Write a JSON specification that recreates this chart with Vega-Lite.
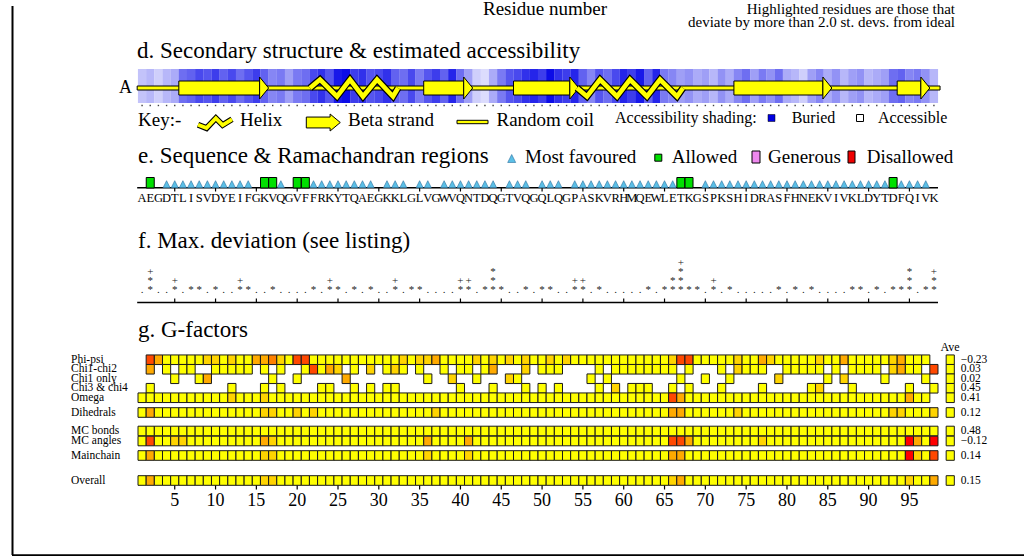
{
"$schema":"https://vega.github.io/schema/vega-lite/v6.json",
"width":1024,"height":556,
"autosize":{"type":"fit","contains":"padding"},
"padding":0,
"background":"#ffffff",
"config":{"view":{"stroke":null},"text":{"font":"Liberation Serif, serif","color":"#000"},"mark":{"font":"Liberation Serif, serif"}},
"data":{"values":[{}]},
"datasets":{
"res":[
{"r":1,"aa":"A","acc":0.2,"rm":null,"pp":null,"c12":null,"c1":null,"c34":null,"om":0,"dih":0,"mcb":0,"mca":0,"mc":0,"ov":0},
{"r":2,"aa":"E","acc":0.25,"rm":"a","pp":-2,"c12":-1.1,"c1":null,"c34":0,"om":0,"dih":-0.9,"mcb":0,"mca":-2.2,"mc":-1,"ov":-1},
{"r":3,"aa":"G","acc":0.15,"rm":null,"pp":-1.1,"c12":null,"c1":null,"c34":null,"om":0,"dih":0,"mcb":0,"mca":0,"mc":0,"ov":0},
{"r":4,"aa":"D","acc":0.25,"rm":"c","pp":0,"c12":0,"c1":null,"c34":null,"om":0,"dih":0,"mcb":0,"mca":0,"mc":0,"ov":0},
{"r":5,"aa":"T","acc":0.3,"rm":"c","pp":0,"c12":null,"c1":0,"c34":null,"om":0,"dih":0,"mcb":0,"mca":-0.6,"mc":0,"ov":0},
{"r":6,"aa":"L","acc":0.55,"rm":"c","pp":0,"c12":0,"c1":null,"c34":null,"om":0,"dih":0,"mcb":0,"mca":-0.6,"mc":0,"ov":0},
{"r":7,"aa":"I","acc":0.6,"rm":"c","pp":0,"c12":0,"c1":null,"c34":null,"om":0,"dih":0,"mcb":0,"mca":0,"mc":0,"ov":0},
{"r":8,"aa":"S","acc":0.7,"rm":"c","pp":0,"c12":null,"c1":0,"c34":null,"om":0,"dih":0,"mcb":0,"mca":0,"mc":0,"ov":0},
{"r":9,"aa":"V","acc":0.65,"rm":"c","pp":-0.6,"c12":null,"c1":-1.1,"c34":null,"om":0,"dih":0,"mcb":0,"mca":0,"mc":0,"ov":0},
{"r":10,"aa":"D","acc":0.75,"rm":"c","pp":-0.6,"c12":0,"c1":null,"c34":null,"om":0,"dih":0,"mcb":0,"mca":0,"mc":0,"ov":0},
{"r":11,"aa":"Y","acc":0.6,"rm":"c","pp":0,"c12":0,"c1":null,"c34":null,"om":0,"dih":0,"mcb":0,"mca":0,"mc":0,"ov":0},
{"r":12,"aa":"E","acc":0.7,"rm":"c","pp":-0.6,"c12":0,"c1":null,"c34":0,"om":-0.6,"dih":0,"mcb":0,"mca":0,"mc":0,"ov":0},
{"r":13,"aa":"I","acc":0.55,"rm":"c","pp":0,"c12":0,"c1":null,"c34":null,"om":0,"dih":0,"mcb":0,"mca":0,"mc":0,"ov":0},
{"r":14,"aa":"F","acc":0.65,"rm":"c","pp":0,"c12":0,"c1":null,"c34":null,"om":0,"dih":0,"mcb":0,"mca":0,"mc":0,"ov":0},
{"r":15,"aa":"G","acc":0.75,"rm":null,"pp":-1,"c12":null,"c1":null,"c34":null,"om":0,"dih":0,"mcb":0,"mca":0,"mc":0,"ov":0},
{"r":16,"aa":"K","acc":0.6,"rm":"a","pp":-1.1,"c12":0,"c1":null,"c34":0,"om":-0.6,"dih":-0.6,"mcb":0,"mca":-1,"mc":-0.6,"ov":-0.6},
{"r":17,"aa":"V","acc":0.45,"rm":"a","pp":-1.5,"c12":null,"c1":0,"c34":null,"om":0,"dih":-0.6,"mcb":0,"mca":-0.6,"mc":-0.6,"ov":-0.6},
{"r":18,"aa":"Q","acc":0.5,"rm":"c","pp":-0.6,"c12":0,"c1":null,"c34":0,"om":0,"dih":0,"mcb":0,"mca":0,"mc":0,"ov":0},
{"r":19,"aa":"G","acc":0.35,"rm":null,"pp":0,"c12":null,"c1":null,"c34":null,"om":0,"dih":0,"mcb":0,"mca":0,"mc":0,"ov":0},
{"r":20,"aa":"V","acc":0.5,"rm":"a","pp":-2,"c12":null,"c1":0,"c34":null,"om":0,"dih":-0.6,"mcb":0,"mca":0,"mc":0,"ov":0},
{"r":21,"aa":"F","acc":0.55,"rm":"a","pp":-1.8,"c12":0,"c1":null,"c34":null,"om":0,"dih":0,"mcb":0,"mca":0,"mc":0,"ov":0},
{"r":22,"aa":"F","acc":0.7,"rm":"c","pp":0,"c12":-2,"c1":null,"c34":null,"om":0,"dih":-0.6,"mcb":0,"mca":0,"mc":0,"ov":0},
{"r":23,"aa":"R","acc":0.8,"rm":"c","pp":0,"c12":0,"c1":null,"c34":0,"om":0,"dih":0,"mcb":0,"mca":0,"mc":0,"ov":0},
{"r":24,"aa":"K","acc":0.65,"rm":"c","pp":0,"c12":-1.1,"c1":null,"c34":0,"om":0,"dih":0,"mcb":0,"mca":0,"mc":0,"ov":0},
{"r":25,"aa":"Y","acc":0.9,"rm":"c","pp":0,"c12":-0.6,"c1":null,"c34":null,"om":0,"dih":0,"mcb":0,"mca":0,"mc":0,"ov":0},
{"r":26,"aa":"T","acc":0.95,"rm":"c","pp":0,"c12":null,"c1":-1,"c34":null,"om":0,"dih":0,"mcb":0,"mca":0,"mc":0,"ov":0},
{"r":27,"aa":"Q","acc":0.75,"rm":"c","pp":0,"c12":0,"c1":null,"c34":0,"om":0,"dih":0,"mcb":0,"mca":0,"mc":0,"ov":0},
{"r":28,"aa":"A","acc":0.8,"rm":"c","pp":0,"c12":null,"c1":null,"c34":null,"om":0,"dih":0,"mcb":0,"mca":0,"mc":0,"ov":0},
{"r":29,"aa":"E","acc":0.65,"rm":"c","pp":0,"c12":-0.6,"c1":null,"c34":0,"om":0,"dih":0,"mcb":0,"mca":0,"mc":0,"ov":0},
{"r":30,"aa":"G","acc":0.7,"rm":null,"pp":0,"c12":null,"c1":null,"c34":null,"om":0,"dih":0,"mcb":0,"mca":0,"mc":0,"ov":0},
{"r":31,"aa":"K","acc":0.8,"rm":"c","pp":0,"c12":0,"c1":null,"c34":0,"om":0,"dih":0,"mcb":0,"mca":0,"mc":0,"ov":0},
{"r":32,"aa":"K","acc":0.6,"rm":"c","pp":0,"c12":-0.6,"c1":null,"c34":0,"om":0,"dih":0,"mcb":0,"mca":0,"mc":0,"ov":0},
{"r":33,"aa":"L","acc":0.55,"rm":"c","pp":-0.6,"c12":0,"c1":null,"c34":null,"om":0,"dih":0,"mcb":0,"mca":0,"mc":0,"ov":0},
{"r":34,"aa":"G","acc":0.7,"rm":null,"pp":0,"c12":null,"c1":null,"c34":null,"om":0,"dih":0,"mcb":0,"mca":0,"mc":0,"ov":0},
{"r":35,"aa":"L","acc":0.5,"rm":"c","pp":-0.6,"c12":0,"c1":null,"c34":null,"om":0,"dih":0,"mcb":0,"mca":0,"mc":0,"ov":0},
{"r":36,"aa":"V","acc":0.65,"rm":"c","pp":-0.6,"c12":null,"c1":0,"c34":null,"om":0,"dih":0,"mcb":0,"mca":-1,"mc":-0.6,"ov":0},
{"r":37,"aa":"G","acc":0.75,"rm":null,"pp":-1.1,"c12":null,"c1":null,"c34":null,"om":0,"dih":-0.6,"mcb":0,"mca":0,"mc":0,"ov":0},
{"r":38,"aa":"W","acc":0.6,"rm":"c","pp":0,"c12":0,"c1":null,"c34":null,"om":0,"dih":0,"mcb":0,"mca":0,"mc":0,"ov":0},
{"r":39,"aa":"V","acc":0.85,"rm":"c","pp":0,"c12":null,"c1":-0.7,"c34":null,"om":0,"dih":0,"mcb":0,"mca":0,"mc":0,"ov":0},
{"r":40,"aa":"Q","acc":0.55,"rm":"c","pp":0,"c12":0,"c1":null,"c34":0,"om":0,"dih":0,"mcb":0,"mca":0,"mc":0,"ov":0},
{"r":41,"aa":"N","acc":0.35,"rm":"c","pp":0,"c12":0,"c1":null,"c34":null,"om":0,"dih":0,"mcb":0,"mca":-0.9,"mc":-0.6,"ov":0},
{"r":42,"aa":"T","acc":0.15,"rm":"c","pp":-0.6,"c12":null,"c1":0,"c34":null,"om":0,"dih":0,"mcb":0,"mca":0,"mc":0,"ov":0},
{"r":43,"aa":"D","acc":0.1,"rm":"c","pp":0,"c12":0,"c1":null,"c34":null,"om":0,"dih":0,"mcb":0,"mca":0,"mc":0,"ov":0},
{"r":44,"aa":"Q","acc":0.3,"rm":"c","pp":-0.6,"c12":-1.1,"c1":null,"c34":0,"om":0,"dih":0,"mcb":0,"mca":0,"mc":0,"ov":0},
{"r":45,"aa":"G","acc":0.5,"rm":null,"pp":0,"c12":null,"c1":null,"c34":null,"om":0,"dih":0,"mcb":0,"mca":0,"mc":0,"ov":0},
{"r":46,"aa":"T","acc":0.65,"rm":"c","pp":-0.6,"c12":null,"c1":-0.6,"c34":null,"om":0,"dih":0,"mcb":0,"mca":0,"mc":0,"ov":0},
{"r":47,"aa":"V","acc":0.7,"rm":"c","pp":0,"c12":null,"c1":0,"c34":null,"om":0,"dih":0,"mcb":0,"mca":0,"mc":0,"ov":0},
{"r":48,"aa":"Q","acc":0.8,"rm":"c","pp":-0.6,"c12":-0.6,"c1":null,"c34":0,"om":0,"dih":0,"mcb":0,"mca":0,"mc":0,"ov":0},
{"r":49,"aa":"G","acc":0.85,"rm":null,"pp":0,"c12":null,"c1":null,"c34":null,"om":0,"dih":0,"mcb":0,"mca":0,"mc":0,"ov":0},
{"r":50,"aa":"Q","acc":0.75,"rm":"c","pp":0,"c12":0,"c1":null,"c34":0,"om":0,"dih":0,"mcb":0,"mca":0,"mc":0,"ov":0},
{"r":51,"aa":"L","acc":0.95,"rm":"c","pp":-0.6,"c12":0,"c1":null,"c34":null,"om":0,"dih":0,"mcb":0,"mca":0,"mc":0,"ov":0},
{"r":52,"aa":"Q","acc":0.8,"rm":"c","pp":0,"c12":0,"c1":null,"c34":0,"om":0,"dih":0,"mcb":0,"mca":0,"mc":0,"ov":0},
{"r":53,"aa":"G","acc":0.75,"rm":null,"pp":-0.6,"c12":null,"c1":null,"c34":null,"om":0,"dih":0,"mcb":0,"mca":0,"mc":0,"ov":0},
{"r":54,"aa":"P","acc":0.85,"rm":"c","pp":0,"c12":null,"c1":null,"c34":null,"om":0,"dih":0,"mcb":0,"mca":0,"mc":0,"ov":0},
{"r":55,"aa":"A","acc":0.6,"rm":"c","pp":0,"c12":null,"c1":null,"c34":null,"om":0,"dih":0,"mcb":0,"mca":0,"mc":0,"ov":0},
{"r":56,"aa":"S","acc":0.45,"rm":"c","pp":0,"c12":null,"c1":0,"c34":null,"om":0,"dih":0,"mcb":0,"mca":0,"mc":0,"ov":0},
{"r":57,"aa":"K","acc":0.65,"rm":"c","pp":0,"c12":0,"c1":null,"c34":0,"om":0,"dih":0,"mcb":0,"mca":0,"mc":0,"ov":0},
{"r":58,"aa":"V","acc":0.55,"rm":"c","pp":0,"c12":null,"c1":0,"c34":null,"om":0,"dih":0,"mcb":0,"mca":0,"mc":0,"ov":0},
{"r":59,"aa":"R","acc":0.7,"rm":"c","pp":0,"c12":0,"c1":null,"c34":-0.6,"om":0,"dih":0,"mcb":0,"mca":0,"mc":0,"ov":0},
{"r":60,"aa":"H","acc":0.85,"rm":"c","pp":0,"c12":0,"c1":null,"c34":null,"om":0,"dih":0,"mcb":0,"mca":0,"mc":0,"ov":0},
{"r":61,"aa":"M","acc":0.75,"rm":"c","pp":0,"c12":0,"c1":null,"c34":0,"om":0,"dih":0,"mcb":0,"mca":0,"mc":0,"ov":0},
{"r":62,"aa":"Q","acc":0.9,"rm":"c","pp":0,"c12":0,"c1":null,"c34":0,"om":0,"dih":0,"mcb":0,"mca":0,"mc":0,"ov":0},
{"r":63,"aa":"E","acc":0.6,"rm":"c","pp":0,"c12":0,"c1":null,"c34":0,"om":0,"dih":0,"mcb":0,"mca":0,"mc":0,"ov":0},
{"r":64,"aa":"W","acc":0.85,"rm":"c","pp":0,"c12":0,"c1":null,"c34":null,"om":0,"dih":0,"mcb":0,"mca":0,"mc":0,"ov":0},
{"r":65,"aa":"L","acc":0.5,"rm":"c","pp":0,"c12":0,"c1":null,"c34":null,"om":0,"dih":0,"mcb":0,"mca":0,"mc":0,"ov":0},
{"r":66,"aa":"E","acc":0.45,"rm":"c","pp":-0.7,"c12":0,"c1":null,"c34":0,"om":-2,"dih":-0.9,"mcb":0,"mca":-2,"mc":-0.9,"ov":-0.8},
{"r":67,"aa":"T","acc":0.35,"rm":"a","pp":-2,"c12":null,"c1":0,"c34":null,"om":-1.1,"dih":-1,"mcb":0,"mca":-2.2,"mc":-1,"ov":-1},
{"r":68,"aa":"K","acc":0.4,"rm":"a","pp":-2,"c12":0,"c1":null,"c34":0,"om":0,"dih":0,"mcb":0,"mca":-1,"mc":0,"ov":0},
{"r":69,"aa":"G","acc":0.3,"rm":null,"pp":0,"c12":null,"c1":null,"c34":null,"om":0,"dih":0,"mcb":0,"mca":0,"mc":0,"ov":0},
{"r":70,"aa":"S","acc":0.35,"rm":"c","pp":0,"c12":null,"c1":0,"c34":null,"om":0,"dih":0,"mcb":0,"mca":0,"mc":0,"ov":0},
{"r":71,"aa":"P","acc":0.25,"rm":"c","pp":0,"c12":null,"c1":null,"c34":null,"om":0,"dih":0,"mcb":0,"mca":0,"mc":0,"ov":0},
{"r":72,"aa":"K","acc":0.4,"rm":"c","pp":0,"c12":0,"c1":null,"c34":0,"om":0,"dih":0,"mcb":0,"mca":0,"mc":0,"ov":0},
{"r":73,"aa":"S","acc":0.3,"rm":"c","pp":0,"c12":null,"c1":0,"c34":null,"om":0,"dih":0,"mcb":0,"mca":0,"mc":0,"ov":0},
{"r":74,"aa":"H","acc":0.45,"rm":"c","pp":-0.6,"c12":-0.6,"c1":null,"c34":null,"om":0,"dih":-0.6,"mcb":0,"mca":0,"mc":0,"ov":0},
{"r":75,"aa":"I","acc":0.55,"rm":"c","pp":0,"c12":0,"c1":null,"c34":null,"om":0,"dih":0,"mcb":0,"mca":0,"mc":0,"ov":0},
{"r":76,"aa":"D","acc":0.35,"rm":"c","pp":0,"c12":0,"c1":null,"c34":null,"om":0,"dih":0,"mcb":0,"mca":0,"mc":0,"ov":0},
{"r":77,"aa":"R","acc":0.5,"rm":"c","pp":-1,"c12":0,"c1":null,"c34":0,"om":0,"dih":0,"mcb":0,"mca":-0.6,"mc":0,"ov":0},
{"r":78,"aa":"A","acc":0.4,"rm":"c","pp":-0.6,"c12":null,"c1":null,"c34":null,"om":0,"dih":0,"mcb":0,"mca":0,"mc":0,"ov":0},
{"r":79,"aa":"S","acc":0.55,"rm":"c","pp":0,"c12":null,"c1":-0.6,"c34":null,"om":0,"dih":0,"mcb":0,"mca":0,"mc":0,"ov":0},
{"r":80,"aa":"F","acc":0.3,"rm":"c","pp":0,"c12":0,"c1":null,"c34":null,"om":0,"dih":0,"mcb":0,"mca":0,"mc":0,"ov":0},
{"r":81,"aa":"H","acc":0.25,"rm":"c","pp":0,"c12":0,"c1":null,"c34":null,"om":0,"dih":0,"mcb":0,"mca":0,"mc":0,"ov":0},
{"r":82,"aa":"N","acc":0.15,"rm":"c","pp":0,"c12":0,"c1":null,"c34":null,"om":0,"dih":0,"mcb":0,"mca":0,"mc":0,"ov":0},
{"r":83,"aa":"E","acc":0.35,"rm":"c","pp":0,"c12":0,"c1":null,"c34":0,"om":0,"dih":0,"mcb":0,"mca":0,"mc":0,"ov":0},
{"r":84,"aa":"K","acc":0.45,"rm":"c","pp":-0.6,"c12":0,"c1":null,"c34":-0.6,"om":0,"dih":0,"mcb":0,"mca":0,"mc":0,"ov":0},
{"r":85,"aa":"V","acc":0.3,"rm":"c","pp":0,"c12":null,"c1":0,"c34":null,"om":0,"dih":0,"mcb":0,"mca":0,"mc":0,"ov":0},
{"r":86,"aa":"I","acc":0.4,"rm":"c","pp":0,"c12":0,"c1":null,"c34":null,"om":0,"dih":0,"mcb":0,"mca":0,"mc":0,"ov":0},
{"r":87,"aa":"V","acc":0.25,"rm":"c","pp":-1,"c12":null,"c1":-0.6,"c34":null,"om":0,"dih":0,"mcb":0,"mca":0,"mc":0,"ov":0},
{"r":88,"aa":"K","acc":0.35,"rm":"c","pp":0,"c12":0,"c1":null,"c34":0,"om":0,"dih":0,"mcb":0,"mca":0,"mc":0,"ov":0},
{"r":89,"aa":"L","acc":0.4,"rm":"c","pp":0,"c12":0,"c1":null,"c34":null,"om":0,"dih":0,"mcb":0,"mca":0,"mc":0,"ov":0},
{"r":90,"aa":"D","acc":0.25,"rm":"c","pp":0,"c12":0,"c1":null,"c34":null,"om":0,"dih":0,"mcb":0,"mca":0,"mc":0,"ov":0},
{"r":91,"aa":"Y","acc":0.3,"rm":"c","pp":0,"c12":0,"c1":null,"c34":null,"om":0,"dih":0,"mcb":0,"mca":0,"mc":0,"ov":0},
{"r":92,"aa":"T","acc":0.35,"rm":"c","pp":0,"c12":null,"c1":0,"c34":null,"om":0,"dih":0,"mcb":0,"mca":0,"mc":0,"ov":0},
{"r":93,"aa":"D","acc":0.55,"rm":"a","pp":-0.6,"c12":-0.6,"c1":null,"c34":null,"om":0,"dih":-0.6,"mcb":0,"mca":0,"mc":0,"ov":0},
{"r":94,"aa":"F","acc":0.6,"rm":"c","pp":-1,"c12":-1.1,"c1":null,"c34":null,"om":0,"dih":-0.6,"mcb":0,"mca":0,"mc":0,"ov":0},
{"r":95,"aa":"Q","acc":0.45,"rm":"c","pp":0,"c12":0,"c1":null,"c34":0,"om":-1.2,"dih":0,"mcb":0,"mca":-3,"mc":-2.6,"ov":-0.7},
{"r":96,"aa":"I","acc":0.5,"rm":"c","pp":0,"c12":0,"c1":null,"c34":null,"om":0,"dih":0,"mcb":0,"mca":-1.2,"mc":-0.6,"ov":0},
{"r":97,"aa":"V","acc":0.4,"rm":"c","pp":0,"c12":null,"c1":0,"c34":null,"om":0,"dih":0,"mcb":0,"mca":0,"mc":0,"ov":0},
{"r":98,"aa":"K","acc":0.25,"rm":null,"pp":null,"c12":-1.8,"c1":null,"c34":0,"om":null,"dih":-0.8,"mcb":0,"mca":-3,"mc":-1.8,"ov":-1}
],
"gave":[
{"key":"pp","k":0,"label":"Phi-psi","ave":-0.23},
{"key":"c12","k":1,"label":"Chi1-chi2","ave":0.03},
{"key":"c1","k":2,"label":"Chi1 only","ave":0.02},
{"key":"c34","k":3,"label":"Chi3 & chi4","ave":0.45},
{"key":"om","k":4,"label":"Omega","ave":0.41},
{"key":"dih","k":5,"label":"Dihedrals","ave":0.12},
{"key":"mcb","k":6,"label":"MC bonds","ave":0.48},
{"key":"mca","k":7,"label":"MC angles","ave":-0.12},
{"key":"mc","k":8,"label":"Mainchain","ave":0.14},
{"key":"ov","k":9,"label":"Overall","ave":0.15}
],
"strands":[{"s":6,"e":16},{"s":36,"e":41},{"s":47,"e":54},{"s":74,"e":85},{"s":94,"e":97}],
"helix":[
{"h":1,"x":21.57,"lv":0},{"h":1,"x":22.8,"lv":1},{"h":1,"x":24.88,"lv":-1},{"h":1,"x":26.47,"lv":1},{"h":1,"x":28.06,"lv":-1},{"h":1,"x":29.78,"lv":1},{"h":1,"x":31.74,"lv":-1},{"h":1,"x":32.35,"lv":0},
{"h":2,"x":54.28,"lv":0},{"h":2,"x":55.5,"lv":-1},{"h":2,"x":57.1,"lv":1},{"h":2,"x":59.18,"lv":-1},{"h":2,"x":60.77,"lv":1},{"h":2,"x":62.85,"lv":-1},{"h":2,"x":64.45,"lv":1},{"h":2,"x":66.53,"lv":-1},{"h":2,"x":67.26,"lv":0}
],
"dev":[
{"r":1,"lv":0,"s":"."},{"r":2,"lv":0,"s":"*"},{"r":2,"lv":1,"s":"*"},{"r":2,"lv":2,"s":"+"},{"r":3,"lv":0,"s":"."},{"r":4,"lv":0,"s":"."},{"r":5,"lv":0,"s":"*"},{"r":5,"lv":1,"s":"+"},{"r":6,"lv":0,"s":"."},{"r":7,"lv":0,"s":"*"},{"r":8,"lv":0,"s":"*"},{"r":9,"lv":0,"s":"."},{"r":10,"lv":0,"s":"*"},
{"r":11,"lv":0,"s":"."},{"r":12,"lv":0,"s":"."},{"r":13,"lv":0,"s":"*"},{"r":13,"lv":1,"s":"+"},{"r":14,"lv":0,"s":"*"},{"r":15,"lv":0,"s":"."},{"r":16,"lv":0,"s":"."},{"r":17,"lv":0,"s":"*"},{"r":18,"lv":0,"s":"."},{"r":19,"lv":0,"s":"."},{"r":20,"lv":0,"s":"."},
{"r":21,"lv":0,"s":"."},{"r":22,"lv":0,"s":"*"},{"r":23,"lv":0,"s":"."},{"r":24,"lv":0,"s":"*"},{"r":24,"lv":1,"s":"+"},{"r":25,"lv":0,"s":"*"},{"r":26,"lv":0,"s":"."},{"r":27,"lv":0,"s":"*"},{"r":28,"lv":0,"s":"."},{"r":29,"lv":0,"s":"*"},{"r":30,"lv":0,"s":"."},
{"r":31,"lv":0,"s":"."},{"r":32,"lv":0,"s":"*"},{"r":32,"lv":1,"s":"+"},{"r":33,"lv":0,"s":"."},{"r":34,"lv":0,"s":"*"},{"r":35,"lv":0,"s":"*"},{"r":36,"lv":0,"s":"."},{"r":37,"lv":0,"s":"."},{"r":38,"lv":0,"s":"."},{"r":39,"lv":0,"s":"."},{"r":40,"lv":0,"s":"*"},{"r":40,"lv":1,"s":"+"},
{"r":41,"lv":0,"s":"*"},{"r":41,"lv":1,"s":"+"},{"r":42,"lv":0,"s":"."},{"r":43,"lv":0,"s":"*"},{"r":44,"lv":0,"s":"*"},{"r":44,"lv":1,"s":"*"},{"r":44,"lv":2,"s":"*"},{"r":45,"lv":0,"s":"*"},{"r":46,"lv":0,"s":"."},{"r":47,"lv":0,"s":"."},{"r":48,"lv":0,"s":"*"},{"r":49,"lv":0,"s":"."},{"r":50,"lv":0,"s":"*"},
{"r":51,"lv":0,"s":"*"},{"r":52,"lv":0,"s":"."},{"r":53,"lv":0,"s":"."},{"r":54,"lv":0,"s":"*"},{"r":54,"lv":1,"s":"+"},{"r":55,"lv":0,"s":"*"},{"r":55,"lv":1,"s":"+"},{"r":56,"lv":0,"s":"."},{"r":57,"lv":0,"s":"*"},{"r":58,"lv":0,"s":"."},{"r":59,"lv":0,"s":"."},{"r":60,"lv":0,"s":"."},
{"r":61,"lv":0,"s":"."},{"r":62,"lv":0,"s":"."},{"r":63,"lv":0,"s":"*"},{"r":64,"lv":0,"s":"."},{"r":65,"lv":0,"s":"*"},{"r":66,"lv":0,"s":"*"},{"r":66,"lv":1,"s":"*"},{"r":67,"lv":0,"s":"*"},{"r":67,"lv":1,"s":"*"},{"r":67,"lv":2,"s":"*"},{"r":67,"lv":3,"s":"+"},{"r":68,"lv":0,"s":"*"},{"r":69,"lv":0,"s":"*"},{"r":70,"lv":0,"s":"."},
{"r":71,"lv":0,"s":"*"},{"r":71,"lv":1,"s":"+"},{"r":72,"lv":0,"s":"."},{"r":73,"lv":0,"s":"*"},{"r":74,"lv":0,"s":"."},{"r":75,"lv":0,"s":"."},{"r":76,"lv":0,"s":"."},{"r":77,"lv":0,"s":"."},{"r":78,"lv":0,"s":"."},{"r":79,"lv":0,"s":"*"},{"r":80,"lv":0,"s":"."},
{"r":81,"lv":0,"s":"*"},{"r":82,"lv":0,"s":"."},{"r":83,"lv":0,"s":"*"},{"r":84,"lv":0,"s":"."},{"r":85,"lv":0,"s":"."},{"r":86,"lv":0,"s":"."},{"r":87,"lv":0,"s":"."},{"r":88,"lv":0,"s":"*"},{"r":89,"lv":0,"s":"*"},{"r":90,"lv":0,"s":"."},
{"r":91,"lv":0,"s":"*"},{"r":92,"lv":0,"s":"."},{"r":93,"lv":0,"s":"*"},{"r":94,"lv":0,"s":"*"},{"r":95,"lv":0,"s":"*"},{"r":95,"lv":1,"s":"*"},{"r":95,"lv":2,"s":"*"},{"r":96,"lv":0,"s":"."},{"r":97,"lv":0,"s":"*"},{"r":98,"lv":0,"s":"*"},{"r":98,"lv":1,"s":"*"},{"r":98,"lv":2,"s":"+"}
]
},
"resolve":{"scale":{"y":"independent","fill":"independent"}},
"layer":[
{"mark":{"type":"rule","stroke":"#000","strokeWidth":2},"encoding":{"x":{"value":12.5},"y":{"value":0},"y2":{"value":549}}},
{"mark":{"type":"rule","stroke":"#000","strokeWidth":2.5},"encoding":{"x":{"value":12},"x2":{"value":1024},"y":{"value":549.5}}},
{"mark":{"type":"text","align":"left","baseline":"alphabetic","fontSize":19,"font":"Liberation Serif, serif"},"encoding":{"x":{"value":483},"y":{"value":9},"text":{"value":"Residue number"}}},
{"mark":{"type":"text","align":"right","baseline":"alphabetic","fontSize":15,"font":"Liberation Serif, serif"},"encoding":{"x":{"value":955},"y":{"value":8},"text":{"value":"Highlighted residues are those that"}}},
{"mark":{"type":"text","align":"right","baseline":"alphabetic","fontSize":15,"font":"Liberation Serif, serif"},"encoding":{"x":{"value":955},"y":{"value":21},"text":{"value":"deviate by more than 2.0 st. devs. from ideal"}}},
{"mark":{"type":"text","align":"left","baseline":"alphabetic","fontSize":23,"font":"Liberation Serif, serif"},"encoding":{"x":{"value":137},"y":{"value":52},"text":{"value":"d. Secondary structure & estimated accessibility"}}},
{"mark":{"type":"text","align":"left","baseline":"alphabetic","fontSize":23,"font":"Liberation Serif, serif"},"encoding":{"x":{"value":138},"y":{"value":157},"text":{"value":"e. Sequence & Ramachandran regions"}}},
{"mark":{"type":"text","align":"left","baseline":"alphabetic","fontSize":23,"font":"Liberation Serif, serif"},"encoding":{"x":{"value":138},"y":{"value":242},"text":{"value":"f. Max. deviation (see listing)"}}},
{"mark":{"type":"text","align":"left","baseline":"alphabetic","fontSize":23,"font":"Liberation Serif, serif"},"encoding":{"x":{"value":138},"y":{"value":331},"text":{"value":"g. G-factors"}}},
{"data":{"name":"res"},"mark":{"type":"rect","xOffset":-4.15,"x2Offset":4.15},"encoding":{"x":{"field":"r","type":"quantitative","scale":{"domain":[0.5,98.5],"range":[138,938],"nice":false,"zero":false},"axis":null},"x2":{"field":"r"},"y":{"value":63},"y2":{"value":97},"fill":{"field":"acc","type":"quantitative","scale":{"domain":[0,1],"range":["#f4f4ff","#0000e6"],"interpolate":"rgb"},"legend":null}}},
{"data":{"name":"res"},"mark":{"type":"point","shape":"square","size":2,"filled":true,"color":"#444","opacity":1},"encoding":{"x":{"field":"r","type":"quantitative","scale":{"domain":[0.5,98.5],"range":[138,938],"nice":false,"zero":false},"axis":null},"y":{"value":99.5}}},
{"mark":{"type":"rect","fill":"#ffff00","stroke":"#000","strokeWidth":1},"encoding":{"x":{"datum":0.4,"type":"quantitative","scale":{"domain":[0.5,98.5],"range":[138,938],"nice":false,"zero":false},"axis":null},"x2":{"datum":98.75},"y":{"value":80},"y2":{"value":84}}},
{"data":{"name":"strands"},"mark":{"type":"rect","fill":"#ffff00","stroke":"#000","strokeWidth":1,"xOffset":-4.08,"x2Offset":-4.92},"encoding":{"x":{"field":"s","type":"quantitative","scale":{"domain":[0.5,98.5],"range":[138,938],"nice":false,"zero":false},"axis":null},"x2":{"field":"e"},"y":{"value":75},"y2":{"value":89}}},
{"data":{"name":"strands"},"mark":{"type":"point","shape":"M-0.409,-1L0.409,0L-0.409,1Z","size":484,"filled":true,"fill":"#ffff00","stroke":"#000","strokeWidth":1,"opacity":1,"xOffset":-0.42},"encoding":{"x":{"field":"e","type":"quantitative","scale":{"domain":[0.5,98.5],"range":[138,938],"nice":false,"zero":false},"axis":null},"y":{"value":82}}},
{"data":{"name":"helix"},"mark":{"type":"line","stroke":"#000","strokeWidth":7},"encoding":{"x":{"field":"x","type":"quantitative","scale":{"domain":[0.5,98.5],"range":[138,938],"nice":false,"zero":false},"axis":null},"y":{"field":"lv","type":"quantitative","scale":{"domain":[-1,1],"range":[90.5,73.5],"nice":false,"zero":false},"axis":null},"detail":{"field":"h","type":"nominal"}}},
{"data":{"name":"helix"},"mark":{"type":"line","stroke":"#ffff00","strokeWidth":4.6},"encoding":{"x":{"field":"x","type":"quantitative","scale":{"domain":[0.5,98.5],"range":[138,938],"nice":false,"zero":false},"axis":null},"y":{"field":"lv","type":"quantitative","scale":{"domain":[-1,1],"range":[90.5,73.5],"nice":false,"zero":false},"axis":null},"detail":{"field":"h","type":"nominal"}}},
{"mark":{"type":"text","align":"right","baseline":"alphabetic","fontSize":18,"font":"Liberation Serif, serif"},"encoding":{"x":{"value":132},"y":{"value":87},"text":{"value":"A"}}},
{"mark":{"type":"text","align":"left","baseline":"alphabetic","fontSize":19,"font":"Liberation Serif, serif"},"encoding":{"x":{"value":138},"y":{"value":120},"text":{"value":"Key:-"}}},
{"mark":{"type":"point","shape":"M-1,0.1L-0.5,0.3L0.05,-0.28L0.45,0.12L1,-0.22","size":1156,"filled":false,"stroke":"#000","strokeWidth":6,"opacity":1},"encoding":{"x":{"value":215},"y":{"value":117}}},
{"mark":{"type":"point","shape":"M-1,0.1L-0.5,0.3L0.05,-0.28L0.45,0.12L1,-0.22","size":1156,"filled":false,"stroke":"#ffff00","strokeWidth":3.8,"opacity":1},"encoding":{"x":{"value":215},"y":{"value":117}}},
{"mark":{"type":"text","align":"left","baseline":"alphabetic","fontSize":19,"font":"Liberation Serif, serif"},"encoding":{"x":{"value":240},"y":{"value":120},"text":{"value":"Helix"}}},
{"mark":{"type":"point","shape":"M-1,-0.32L0.4,-0.32L0.4,-0.5L1,0L0.4,0.5L0.4,0.32L-1,0.32Z","size":1156,"filled":true,"fill":"#ffff00","stroke":"#000","strokeWidth":1,"opacity":1},"encoding":{"x":{"value":323.3},"y":{"value":116.5}}},
{"mark":{"type":"text","align":"left","baseline":"alphabetic","fontSize":19,"font":"Liberation Serif, serif"},"encoding":{"x":{"value":348},"y":{"value":120},"text":{"value":"Beta strand"}}},
{"mark":{"type":"rect","fill":"#ffff00","stroke":"#000","strokeWidth":1},"encoding":{"x":{"value":457},"x2":{"value":488},"y":{"value":114.3},"y2":{"value":117.7}}},
{"mark":{"type":"text","align":"left","baseline":"alphabetic","fontSize":19,"font":"Liberation Serif, serif"},"encoding":{"x":{"value":496.5},"y":{"value":120},"text":{"value":"Random coil"}}},
{"mark":{"type":"text","align":"left","baseline":"alphabetic","fontSize":16,"font":"Liberation Serif, serif"},"encoding":{"x":{"value":615},"y":{"value":116.5},"text":{"value":"Accessibility shading:"}}},
{"mark":{"type":"point","shape":"square","size":49,"filled":true,"fill":"#0000e0","stroke":"#000","strokeWidth":0.5,"opacity":1},"encoding":{"x":{"value":771.5},"y":{"value":112}}},
{"mark":{"type":"text","align":"left","baseline":"alphabetic","fontSize":16,"font":"Liberation Serif, serif"},"encoding":{"x":{"value":791.7},"y":{"value":116.5},"text":{"value":"Buried"}}},
{"mark":{"type":"point","shape":"square","size":49,"filled":true,"fill":"#ffffff","stroke":"#000","strokeWidth":1,"opacity":1},"encoding":{"x":{"value":860},"y":{"value":112}}},
{"mark":{"type":"text","align":"left","baseline":"alphabetic","fontSize":16,"font":"Liberation Serif, serif"},"encoding":{"x":{"value":878},"y":{"value":116.5},"text":{"value":"Accessible"}}},
{"mark":{"type":"point","shape":"M0,-1L1,1L-1,1Z","size":64,"filled":true,"fill":"#5bbfe6","stroke":"#2a6f9e","strokeWidth":0.6,"opacity":1},"encoding":{"x":{"value":511.7},"y":{"value":152.5}}},
{"mark":{"type":"text","align":"left","baseline":"alphabetic","fontSize":19,"font":"Liberation Serif, serif"},"encoding":{"x":{"value":525},"y":{"value":157},"text":{"value":"Most favoured"}}},
{"mark":{"type":"point","shape":"square","size":49,"filled":true,"fill":"#00e000","stroke":"#000","strokeWidth":1,"opacity":1},"encoding":{"x":{"value":658.3},"y":{"value":151.7}}},
{"mark":{"type":"text","align":"left","baseline":"alphabetic","fontSize":19,"font":"Liberation Serif, serif"},"encoding":{"x":{"value":671.7},"y":{"value":157},"text":{"value":"Allowed"}}},
{"mark":{"type":"rect","fill":"#ee88ee","stroke":"#000","strokeWidth":1},"encoding":{"x":{"value":752},"x2":{"value":760},"y":{"value":145},"y2":{"value":157}}},
{"mark":{"type":"text","align":"left","baseline":"alphabetic","fontSize":19,"font":"Liberation Serif, serif"},"encoding":{"x":{"value":768},"y":{"value":157},"text":{"value":"Generous"}}},
{"mark":{"type":"rect","fill":"#ee0000","stroke":"#000","strokeWidth":1},"encoding":{"x":{"value":848},"x2":{"value":855},"y":{"value":145},"y2":{"value":157}}},
{"mark":{"type":"text","align":"left","baseline":"alphabetic","fontSize":19,"font":"Liberation Serif, serif"},"encoding":{"x":{"value":866.7},"y":{"value":157},"text":{"value":"Disallowed"}}},
{"mark":{"type":"rule","stroke":"#000","strokeWidth":1.5},"encoding":{"x":{"datum":0.4,"type":"quantitative","scale":{"domain":[0.5,98.5],"range":[138,938],"nice":false,"zero":false},"axis":null},"x2":{"datum":98.5},"y":{"value":181.7}}},
{"data":{"name":"res"},"transform":[{"filter":"datum.r % 5 == 0"}],"mark":{"type":"rule","stroke":"#000","strokeWidth":1.2},"encoding":{"x":{"field":"r","type":"quantitative","scale":{"domain":[0.5,98.5],"range":[138,938],"nice":false,"zero":false},"axis":null},"y":{"value":181.7},"y2":{"value":185.5}}},
{"data":{"name":"res"},"transform":[{"filter":"datum.rm == 'c'"}],"mark":{"type":"point","shape":"M0,-1L1,1L-1,1Z","size":49,"filled":true,"fill":"#5bbfe6","stroke":"#2a6f9e","strokeWidth":0.6,"opacity":1},"encoding":{"x":{"field":"r","type":"quantitative","scale":{"domain":[0.5,98.5],"range":[138,938],"nice":false,"zero":false},"axis":null},"y":{"value":178.2}}},
{"data":{"name":"res"},"transform":[{"filter":"datum.rm == 'a'"}],"mark":{"type":"rect","fill":"#00e000","stroke":"#000","strokeWidth":1,"xOffset":-4,"x2Offset":4},"encoding":{"x":{"field":"r","type":"quantitative","scale":{"domain":[0.5,98.5],"range":[138,938],"nice":false,"zero":false},"axis":null},"x2":{"field":"r"},"y":{"value":171.5},"y2":{"value":182}}},
{"data":{"name":"res"},"mark":{"type":"text","align":"center","baseline":"alphabetic","fontSize":12.5,"font":"Liberation Serif, serif"},"encoding":{"x":{"field":"r","type":"quantitative","scale":{"domain":[0.5,98.5],"range":[138,938],"nice":false,"zero":false},"axis":null},"y":{"value":196},"text":{"field":"aa","type":"nominal"}}},
{"data":{"name":"dev"},"mark":{"type":"text","align":"center","baseline":"middle","fontSize":11,"font":"Liberation Serif, serif","color":"#222"},"encoding":{"x":{"field":"r","type":"quantitative","scale":{"domain":[0.5,98.5],"range":[138,938],"nice":false,"zero":false},"axis":null},"y":{"field":"lv","type":"quantitative","scale":{"domain":[0,3],"range":[284,257],"nice":false,"zero":false},"axis":null},"text":{"field":"s","type":"nominal"}}},
{"mark":{"type":"rule","stroke":"#000","strokeWidth":1.5},"encoding":{"x":{"datum":0.4,"type":"quantitative","scale":{"domain":[0.5,98.5],"range":[138,938],"nice":false,"zero":false},"axis":null},"x2":{"datum":98.5},"y":{"value":296.5}}},
{"data":{"name":"res"},"transform":[{"filter":"datum.r % 5 == 0"}],"mark":{"type":"rule","stroke":"#000","strokeWidth":1.2},"encoding":{"x":{"field":"r","type":"quantitative","scale":{"domain":[0.5,98.5],"range":[138,938],"nice":false,"zero":false},"axis":null},"y":{"value":292.5},"y2":{"value":296.5}}},
{"data":{"name":"res"},"transform":[{"fold":["pp","c12","c1","c34","om","dih","mcb","mca","mc","ov"],"as":["key","g"]},{"lookup":"key","from":{"data":{"name":"gave"},"key":"key","fields":["k"]}}],"mark":{"type":"rect","xOffset":-4.08,"x2Offset":4.08,"yOffset":-4.8,"y2Offset":4.8,"stroke":"#1a1a1a","strokeWidth":1},"encoding":{"x":{"field":"r","type":"quantitative","scale":{"domain":[0.5,98.5],"range":[138,938],"nice":false,"zero":false},"axis":null},"x2":{"field":"r"},"y":{"field":"k","type":"quantitative","scale":{"domain":[0,4,5,6,7,8,9],"range":[353.75,391.75,406.5,425,435,449.5,474.5],"nice":false,"zero":false},"axis":null},"y2":{"field":"k"},"fill":{"condition":{"test":"!isValid(datum.g)","value":"#ffffff"},"field":"g","type":"quantitative","scale":{"type":"threshold","domain":[-2.5,-1.75,-1.25,-0.85,-0.45],"range":["#ff0000","#ff4800","#ff8000","#ffaa00","#ffd400","#ffff00"]},"legend":null}}},
{"data":{"name":"gave"},"mark":{"type":"text","align":"left","baseline":"middle","fontSize":11.5,"font":"Liberation Serif, serif"},"encoding":{"x":{"value":71},"y":{"field":"k","type":"quantitative","scale":{"domain":[0,4,5,6,7,8,9],"range":[353.75,391.75,406.5,425,435,449.5,474.5],"nice":false,"zero":false},"axis":null},"text":{"field":"label","type":"nominal"}}},
{"data":{"name":"gave"},"mark":{"type":"rect","xOffset":-4.08,"x2Offset":4.08,"yOffset":-4.8,"y2Offset":4.8,"stroke":"#1a1a1a","strokeWidth":1},"encoding":{"x":{"datum":100,"type":"quantitative","scale":{"domain":[0.5,98.5],"range":[138,938],"nice":false,"zero":false},"axis":null},"x2":{"datum":100},"y":{"field":"k","type":"quantitative","scale":{"domain":[0,4,5,6,7,8,9],"range":[353.75,391.75,406.5,425,435,449.5,474.5],"nice":false,"zero":false},"axis":null},"y2":{"field":"k"},"fill":{"field":"ave","type":"quantitative","scale":{"type":"threshold","domain":[-2.5,-1.75,-1.25,-0.85,-0.45],"range":["#ff0000","#ff4800","#ff8000","#ffaa00","#ffd400","#ffff00"]},"legend":null}}},
{"data":{"name":"gave"},"mark":{"type":"text","align":"left","baseline":"middle","fontSize":11.5,"dx":10.5,"font":"Liberation Serif, serif"},"encoding":{"x":{"datum":100,"type":"quantitative","scale":{"domain":[0.5,98.5],"range":[138,938],"nice":false,"zero":false},"axis":null},"y":{"field":"k","type":"quantitative","scale":{"domain":[0,4,5,6,7,8,9],"range":[353.75,391.75,406.5,425,435,449.5,474.5],"nice":false,"zero":false},"axis":null},"text":{"field":"ave","type":"quantitative","format":".2f"}}},
{"mark":{"type":"text","align":"center","baseline":"alphabetic","fontSize":12,"font":"Liberation Serif, serif"},"encoding":{"x":{"value":950},"y":{"value":345},"text":{"value":"Ave"}}},
{"data":{"name":"res"},"transform":[{"filter":"datum.r % 5 == 0"}],"mark":{"type":"rule","stroke":"#000","strokeWidth":1.2},"encoding":{"x":{"field":"r","type":"quantitative","scale":{"domain":[0.5,98.5],"range":[138,938],"nice":false,"zero":false},"axis":null},"y":{"value":479.5},"y2":{"value":483.5}}},
{"data":{"name":"res"},"transform":[{"filter":"datum.r % 5 == 0"}],"mark":{"type":"text","align":"center","baseline":"alphabetic","fontSize":18,"font":"Liberation Serif, serif"},"encoding":{"x":{"field":"r","type":"quantitative","scale":{"domain":[0.5,98.5],"range":[138,938],"nice":false,"zero":false},"axis":null},"y":{"value":499.5},"text":{"field":"r","type":"quantitative"}}}
]
}
